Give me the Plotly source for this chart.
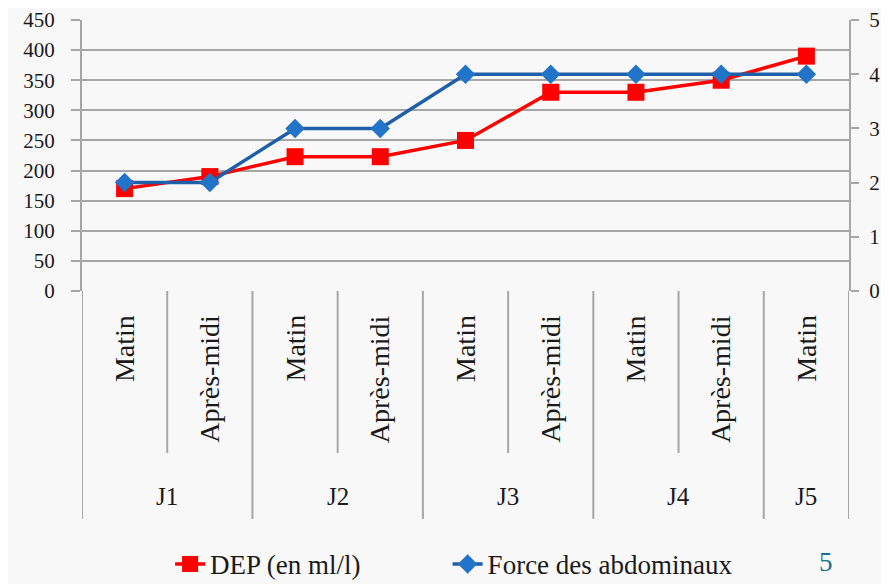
import plotly.graph_objects as go

days = ["J1", "J1", "J2", "J2", "J3", "J3", "J4", "J4", "J5"]
periods = ["Matin", "Après-midi", "Matin", "Après-midi", "Matin", "Après-midi", "Matin", "Après-midi", "Matin"]
dep = [170, 190, 223, 223, 250, 330, 330, 350, 390]
force = [2, 2, 3, 3, 4, 4, 4, 4, 4]

FONT = "Liberation Serif, DejaVu Serif, serif"
GRID = "#a6a6a6"
TXT = "#1a1a1a"

xs = list(range(len(periods)))

fig = go.Figure()
fig.add_trace(go.Scatter(
    x=xs, y=dep, name="DEP (en ml/l)", mode="lines+markers",
    line=dict(color="#ff0000", width=3.5),
    marker=dict(symbol="square", size=17, color="#ff0000"),
    yaxis="y", legend="legend",
))
fig.add_trace(go.Scatter(
    x=xs, y=force, name="Force des abdominaux", mode="lines+markers",
    line=dict(color="#1f5fa8", width=3.5),
    marker=dict(symbol="diamond", size=15, color="#2174c8"),
    yaxis="y2", legend="legend2",
))

annotations = []
shapes = []
for i, p in enumerate(periods):
    annotations.append(dict(text=p, x=i, xref="x", y=-0.081, yref="paper", textangle=-90,
                            xanchor="center", yanchor="top", showarrow=False,
                            font=dict(family=FONT, size=28, color=TXT)))
groups = []
for i, d in enumerate(days):
    if not groups or groups[-1][0] != d:
        groups.append([d, i, i])
    else:
        groups[-1][2] = i
for d, a, b in groups:
    annotations.append(dict(text=d, x=(a + b) / 2, xref="x", y=-0.760, yref="paper",
                            xanchor="center", yanchor="middle", showarrow=False,
                            font=dict(family=FONT, size=25, color=TXT)))
    shapes.append(dict(type="line", xref="x", yref="paper", x0=a - 0.5, x1=a - 0.5,
                       y0=0, y1=-0.841, line=dict(color=GRID, width=2)))
    for k in range(a, b):
        shapes.append(dict(type="line", xref="x", yref="paper", x0=k + 0.5, x1=k + 0.5,
                           y0=0, y1=-0.598, line=dict(color=GRID, width=2)))
last = groups[-1][2]
shapes.append(dict(type="line", xref="x", yref="paper", x0=last + 0.5, x1=last + 0.5,
                   y0=0, y1=-0.841, line=dict(color=GRID, width=2)))

annotations.append(dict(text="5", xref="paper", yref="paper", x=0.97, y=-1.0,
                        xanchor="center", yanchor="middle", showarrow=False,
                        font=dict(family=FONT, size=27, color="#1a6f8c")))

leg_common = dict(orientation="h", xanchor="left", xref="container",
                  y=0.034, yanchor="middle", yref="container",
                  font=dict(size=27, family=FONT, color=TXT), bgcolor="rgba(0,0,0,0)")

fig.update_layout(
    width=881, height=576,
    margin=dict(l=74, r=40, t=12, b=293, autoexpand=False),
    paper_bgcolor="#f8f8f8", plot_bgcolor="#f8f8f8",
    font=dict(family=FONT, size=20, color=TXT),
    showlegend=True,
    legend=dict(x=0.184, **leg_common),
    legend2=dict(x=0.499, **leg_common),
    xaxis=dict(range=[-0.5, len(periods) - 0.5], showgrid=False, zeroline=False,
               showline=False, showticklabels=False, ticks="", automargin=False),
    yaxis=dict(
        range=[0, 450], dtick=50, showgrid=True, gridcolor=GRID, gridwidth=2,
        zeroline=False, showline=True, linecolor=GRID, linewidth=2,
        ticks="outside", ticklen=9, tickcolor=GRID, tickwidth=2, automargin=False,
        ticklabelstandoff=12, ticklabeloverflow="allow",
        tickfont=dict(family=FONT, size=21, color=TXT),
    ),
    yaxis2=dict(
        range=[0, 5], dtick=1, overlaying="y", side="right", showgrid=False,
        zeroline=False, showline=True, linecolor=GRID, linewidth=2, automargin=False,
        ticks="outside", ticklen=8, tickcolor=GRID, tickwidth=2,
        ticklabelstandoff=6, ticklabeloverflow="allow",
        tickfont=dict(family=FONT, size=21, color=TXT),
    ),
    annotations=annotations,
    shapes=shapes,
)

fig.write_html("out.html")
